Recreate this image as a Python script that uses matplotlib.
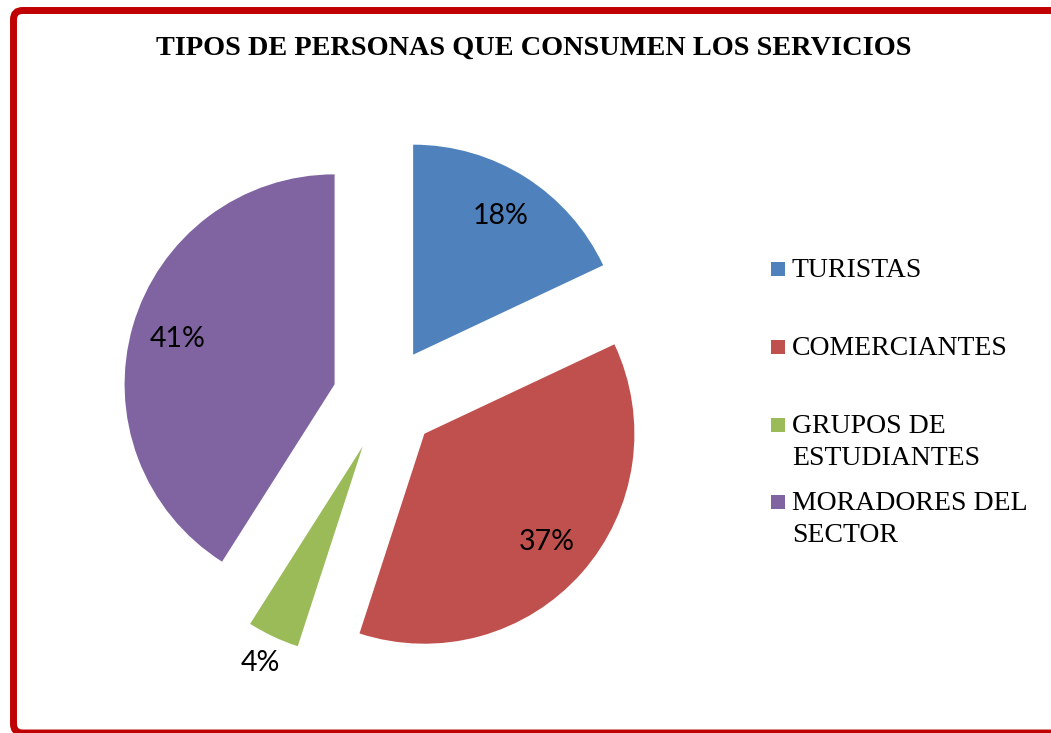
import numpy as np
import matplotlib
matplotlib.use('Agg')
import matplotlib.pyplot as plt
from matplotlib.patches import FancyBboxPatch, Rectangle

titulo = 'TIPOS DE PERSONAS QUE CONSUMEN LOS SERVICIOS'
categorias = ['TURISTAS', 'COMERCIANTES', 'GRUPOS DE\nESTUDIANTES', 'MORADORES DEL\nSECTOR']
porcentajes = [18, 37, 4, 41]
colores = ['#4F81BD', '#C0504D', '#9BBB59', '#8064A2']

W, H = 1051, 733
fig = plt.figure(figsize=(W/100, H/100), dpi=100)

# red frame (open on the right side)
marco = FancyBboxPatch((13.5, 0), 1200, 722.5, boxstyle='round,pad=0,rounding_size=9',
                       transform=None, facecolor='none', edgecolor='#C00000', linewidth=5.0)
fig.patches.append(marco)

fig.text(534/W, 1-55/H, titulo, ha='center', va='baseline', family='Liberation Serif',
         fontweight='bold', fontsize=20.3)

# pie axes: radius 1 -> 210 px, centre at (385, 399) px from top-left
L = 1.5
S = 2*L*210
cx, cy = 385, H-399
ax = fig.add_axes([(cx-S/2)/W, (cy-S/2)/H, S/W, S/H])
wedges, texts, autotexts = ax.pie(porcentajes, colors=colores, startangle=90, counterclock=False,
                                  explode=[0.25]*4, autopct='%1.0f%%', pctdistance=0.78,
                                  textprops=dict(family='Lato', fontsize=20.5, color='black'))
for w, t, p in zip(wedges, autotexts, porcentajes):
    if p < 5:
        ang = np.deg2rad((w.theta1 + w.theta2)/2)
        t.set_position((w.center[0] + 1.14*w.r*np.cos(ang), w.center[1] + 1.14*w.r*np.sin(ang)))
ax.set_xlim(-L, L)
ax.set_ylim(-L, L)
ax.set_aspect('equal')
ax.axis('off')

# legend
base_y = [277, 355, 433, 510]
paso = 32
for lab, col, by in zip(categorias, colores, base_y):
    fig.patches.append(Rectangle((771, H-by+1), 14, 14, transform=None,
                                 facecolor=col, edgecolor='none'))
    for i, linea in enumerate(lab.split('\n')):
        fig.text(792/W, 1-(by+i*paso)/H, linea, ha='left', va='baseline',
                 family='Liberation Serif', fontsize=20)

plt.savefig('out.png', dpi=100)
